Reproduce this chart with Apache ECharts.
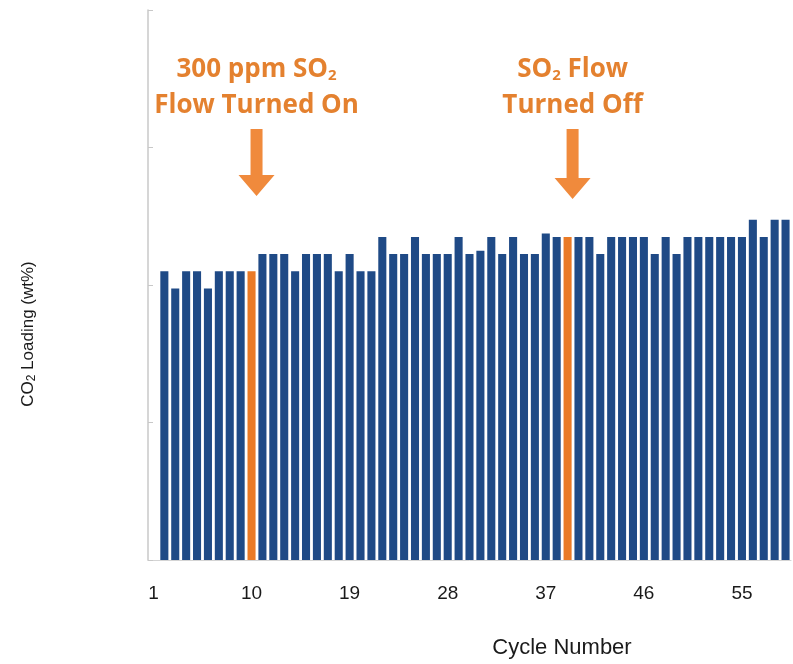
<!DOCTYPE html>
<html><head><meta charset="utf-8">
<script src="https://cdn.jsdelivr.net/npm/echarts@6/dist/echarts.min.js"></script>
<style>html,body{margin:0;padding:0;background:#fff}#c{width:793px;height:664px}</style>
</head><body><div id="c"></div>
<script>
// Cycle numbers (category axis)
const cycles = ['1','2','3','4','5','6','7','8','9','10','11','12','13','14','15','16','17','18','19','20',
  '21','22','23','24','25','26','27','28','29','30','31','32','33','34','35','36','37','38','39','40',
  '41','42','43','44','45','46','47','48','49','50','51','52','53','54','55','56','57','58','59'];
// CO2 loading (wt%) per cycle (cycle 1 has no bar)
const loading = [null,
  8.4, 7.9, 8.4, 8.4, 7.9, 8.4, 8.4, 8.4, 8.4,
  8.9, 8.9, 8.9, 8.4, 8.9, 8.9, 8.9, 8.4, 8.9, 8.4,
  8.4, 9.4, 8.9, 8.9, 9.4, 8.9, 8.9, 8.9, 9.4, 8.9,
  9.0, 9.4, 8.9, 9.4, 8.9, 8.9, 9.5, 9.4, 9.4, 9.4,
  9.4, 8.9, 9.4, 9.4, 9.4, 9.4, 8.9, 9.4, 8.9, 9.4,
  9.4, 9.4, 9.4, 9.4, 9.4, 9.9, 9.4, 9.9, 9.9];
const highlightCycles = ['10', '39'];
const annotationCycles = ['10', '39'];
const annotationLines = [
  ['{t|300 ppm SO}{s|2}', '{t|Flow Turned On}'],
  ['{t|SO}{s|2}{t| Flow}', '{t|Turned Off}']
];

const BLUE = '#1f4a86', ORANGE = '#ea7a26', TXT_OR = '#e4812f', ARROW = '#f08a3c';

const chart = echarts.init(document.getElementById('c'), null, {renderer: 'canvas'});
chart.setOption({
  animation: false,
  backgroundColor: '#fff',
  grid: {left: 148, right: 2, top: 10, bottom: 104, containLabel: false},
  xAxis: {
    type: 'category', data: cycles, boundaryGap: true,
    axisLine: {show: true, lineStyle: {color: '#d4d4d4', width: 1}},
    axisTick: {show: false},
    axisLabel: {interval: 8, color: '#1a1a1a', fontSize: 19, fontFamily: 'Liberation Sans', margin: 24}
  },
  yAxis: {
    type: 'value', min: 0, max: 16, interval: 4,
    axisLine: {show: true, lineStyle: {color: '#c8c8c8', width: 1.5}},
    axisTick: {show: true, inside: true, length: 5, lineStyle: {color: '#c8c8c8'}},
    axisLabel: {show: false},
    splitLine: {show: false}
  },
  series: [{
    type: 'bar',
    barCategoryGap: '26%',
    data: loading.map((v, i) => ({
      value: v,
      itemStyle: {color: highlightCycles.includes(cycles[i]) ? ORANGE : BLUE}
    }))
  }]
});

const rich = {
  t: {fontFamily: 'Open Sans', fontWeight: 'bold', fontSize: 26, fill: TXT_OR},
  s: {fontFamily: 'Open Sans', fontWeight: 'bold', fontSize: 15, fill: TXT_OR, verticalAlign: 'bottom', padding: [12, 0, 0, 0]}
};
const graphics = [];
annotationCycles.forEach((c, k) => {
  const px = chart.convertToPixel({xAxisIndex: 0}, c);
  const cx = px + 5;
  graphics.push({
    type: 'text', x: cx, y: 70,
    style: {text: annotationLines[k][0], rich: rich, align: 'center', verticalAlign: 'middle', fill: TXT_OR}
  });
  graphics.push({
    type: 'text', x: cx, y: 106,
    style: {text: annotationLines[k][1], rich: rich, align: 'center', verticalAlign: 'middle', fill: TXT_OR}
  });
  const tip = k === 0 ? 196 : 199;
  graphics.push({
    type: 'polygon',
    shape: {points: [[cx - 6, 129], [cx + 6, 129], [cx + 6, tip - 21], [cx + 18, tip - 21], [cx, tip], [cx - 18, tip - 21], [cx - 6, tip - 21]]},
    style: {fill: ARROW}
  });
});
graphics.push({
  type: 'text', x: 28, y: 334, rotation: Math.PI / 2,
  style: {
    text: '{a|CO}{b|2}{a| Loading (wt%)}', align: 'center', verticalAlign: 'middle',
    rich: {
      a: {fontFamily: 'Liberation Sans', fontSize: 17, fill: '#1a1a1a'},
      b: {fontFamily: 'Liberation Sans', fontSize: 12, fill: '#1a1a1a', padding: [8, 0, 0, 0]}
    }
  }
});
graphics.push({
  type: 'text', x: 562, y: 648,
  style: {text: 'Cycle Number', align: 'center', verticalAlign: 'middle', fontFamily: 'Liberation Sans', fontSize: 22, fill: '#1a1a1a'}
});
chart.setOption({graphic: graphics});
</script>
</body></html>
